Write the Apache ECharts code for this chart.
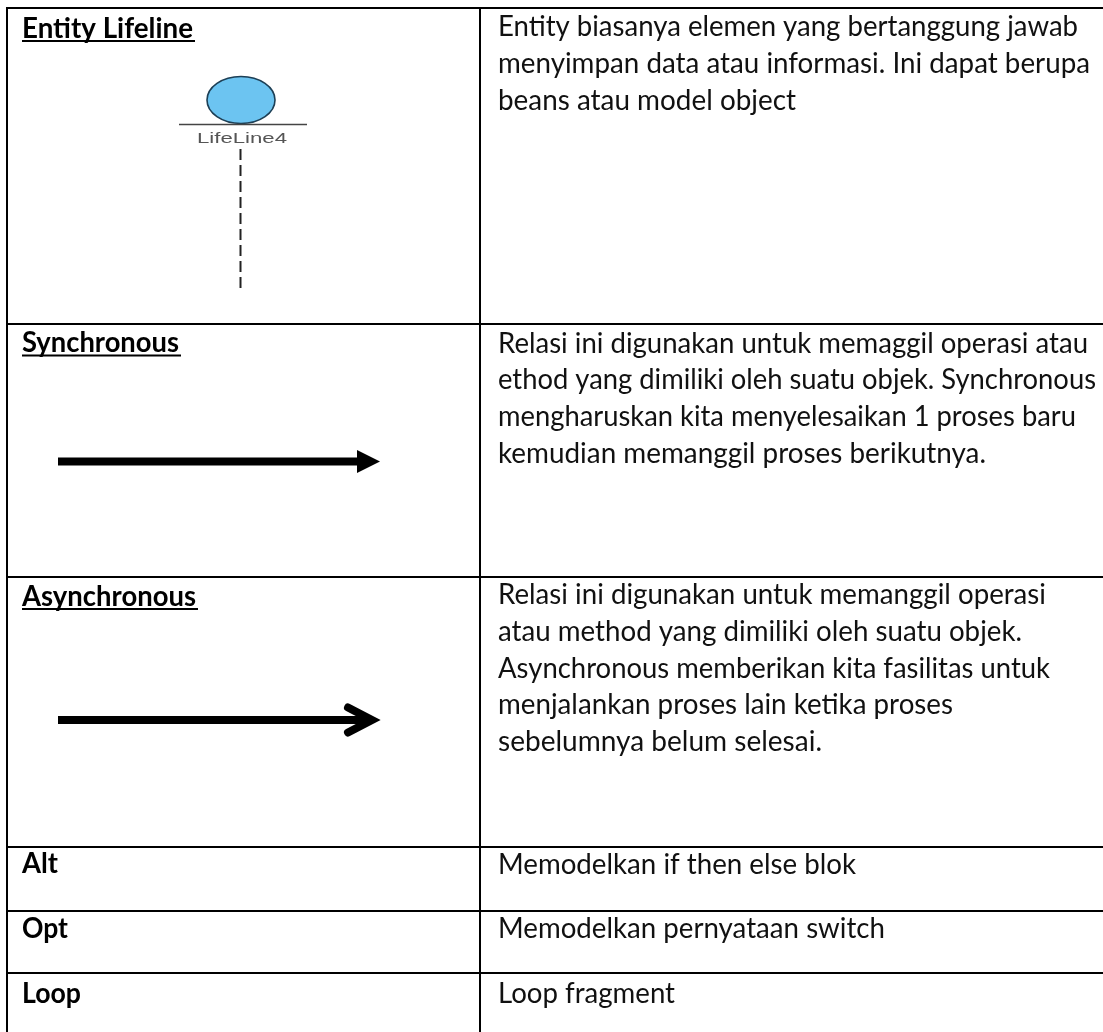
<!DOCTYPE html>
<html>
<head>
<meta charset="utf-8">
<title>Sequence diagram notation</title>
<style>
  html, body { margin: 0; padding: 0; background: #fff; }
  #main { width: 1103px; height: 1032px; }
</style>
<script src="https://cdn.jsdelivr.net/npm/echarts@6/dist/echarts.min.js"></script>
</head>
<body>
<div id="main"></div>
<script>
// table content
var rowNames = ['Entity Lifeline', 'Synchronous', 'Asynchronous', 'Alt', 'Opt', 'Loop'];
var rowUnderlined = [true, true, true, false, false, false];
var rowDescriptions = [
  ['Entity biasanya elemen yang bertanggung jawab', 'menyimpan data atau informasi. Ini dapat berupa', 'beans atau model object'],
  ['Relasi ini digunakan untuk memaggil operasi atau', 'ethod yang dimiliki oleh suatu objek. Synchronous', 'mengharuskan kita menyelesaikan 1 proses baru', 'kemudian memanggil proses berikutnya.'],
  ['Relasi ini digunakan untuk memanggil operasi', 'atau method yang dimiliki oleh suatu objek.', 'Asynchronous memberikan kita fasilitas untuk', 'menjalankan proses lain ketika proses', 'sebelumnya belum selesai.'],
  ['Memodelkan if then else blok'],
  ['Memodelkan pernyataan switch'],
  ['Loop fragment']
];
var lifelineLabel = 'LifeLine4';

// table geometry on the pixel axes
var rowTops = [8, 324, 577, 847, 911, 973];
var colLines = [7, 480];
var nameBaselines = [37, 351.5, 605, 872.5, 937, 1002];
var nameRights = [193, 179, 196, 58, 68, 81];
var descBaselines = [35.5, 352, 603.5, 873, 937, 1002];
var descRights = [
  [1078, 1090, 796],
  [1088, 1096, 1076, 986],
  [1046, 1022, 1050, 953, 822],
  [856],
  [885],
  [675]
];
var NAME_X = 22, DESC_X = 498, LINE_STEP = 36.7, FONT_SIZE = 28;

var ctx = document.createElement('canvas').getContext('2d');
function fitScale(text, font, targetWidth) {
  ctx.font = font;
  return targetWidth / ctx.measureText(text).width;
}

function fittedText(api, text, x, baseline, right, weight, size, family, fill) {
  var font = weight + ' ' + size + 'px ' + family;
  var p = api.coord([x, baseline - size * 0.3]);
  return {
    type: 'text',
    x: p[0],
    y: p[1],
    scaleX: fitScale(text, font, right - x),
    silent: true,
    style: { text: text, x: 0, y: 0, font: font, fill: fill, align: 'left', verticalAlign: 'middle' }
  };
}

function line(api, x1, y1, x2, y2, style) {
  var a = api.coord([x1, y1]), b = api.coord([x2, y2]);
  return { type: 'line', silent: true, shape: { x1: a[0], y1: a[1], x2: b[0], y2: b[1] }, style: style };
}

function renderRules(params, api) {
  var i = params.dataIndex;
  return line(api, 6, rowTops[i], 1103, rowTops[i], { stroke: '#000', lineWidth: 2 });
}

function renderColumns(params, api) {
  var i = params.dataIndex;
  return line(api, colLines[i], 7, colLines[i], 1032, { stroke: '#000', lineWidth: 2 });
}

function renderNames(params, api) {
  var i = params.dataIndex, kids = [];
  kids.push(fittedText(api, rowNames[i], NAME_X, nameBaselines[i], nameRights[i], 'bold', FONT_SIZE, 'Lato', '#000'));
  if (rowUnderlined[i]) {
    kids.push(line(api, NAME_X, nameBaselines[i] + 4, nameRights[i] + 2, nameBaselines[i] + 4, { stroke: '#000', lineWidth: 2 }));
  }
  return { type: 'group', children: kids };
}

function renderDescriptions(params, api) {
  var i = params.dataIndex;
  return {
    type: 'group',
    children: rowDescriptions[i].map(function (t, k) {
      return fittedText(api, t, DESC_X, descBaselines[i] + k * LINE_STEP, descRights[i][k], 'normal', FONT_SIZE, 'Lato', '#111');
    })
  };
}

function renderLifeline(params, api) {
  var c = api.coord([241, 100]);
  return {
    type: 'group',
    children: [
      { type: 'ellipse', silent: true, shape: { cx: c[0], cy: c[1], rx: 34, ry: 23.5 }, style: { fill: '#6cc4f1', stroke: '#1d3f55', lineWidth: 1.6 } },
      line(api, 179, 124.5, 307, 124.5, { stroke: '#444', lineWidth: 1.4 }),
      fittedText(api, lifelineLabel, 197, 143, 287, 'normal', 15, '"Liberation Sans"', '#555'),
      line(api, 240.5, 149, 240.5, 293, { stroke: '#222', lineWidth: 2, lineDash: [11, 5] })
    ]
  };
}

function renderArrows(params, api) {
  var tip, start = api.coord([58, 0])[0];
  var head;
  if (params.dataIndex === 0) {
    tip = api.coord([380, 461.5]);
    head = {
      type: 'polygon', silent: true,
      shape: { points: [[tip[0], tip[1]], [tip[0] - 23, tip[1] - 11.5], [tip[0] - 23, tip[1] + 11.5]] },
      style: { fill: '#000' }
    };
    return {
      type: 'group',
      children: [
        { type: 'rect', silent: true, shape: { x: start, y: tip[1] - 4, width: tip[0] - 20 - start, height: 8 }, style: { fill: '#000' } },
        head
      ]
    };
  }
  tip = api.coord([372, 720]);
  head = {
    type: 'polyline', silent: true,
    shape: { points: [[tip[0] - 24, tip[1] - 12.5], [tip[0], tip[1]], [tip[0] - 24, tip[1] + 12.5]] },
    style: { fill: null, stroke: '#000', lineWidth: 8, lineCap: 'round', lineJoin: 'miter' }
  };
  return {
    type: 'group',
    children: [
      { type: 'rect', silent: true, shape: { x: start, y: tip[1] - 4, width: tip[0] - start, height: 8 }, style: { fill: '#000' } },
      head
    ]
  };
}

function indexData(list) {
  return list.map(function (_, i) { return [i]; });
}

var chart = echarts.init(document.getElementById('main'), null, { renderer: 'canvas', width: 1103, height: 1032 });
chart.setOption({
  backgroundColor: '#ffffff',
  animation: false,
  tooltip: { show: false },
  grid: { left: 0, right: 0, top: 0, bottom: 0 },
  xAxis: { type: 'value', min: 0, max: 1103, show: false },
  yAxis: { type: 'value', min: 0, max: 1032, inverse: true, show: false },
  series: [
    { type: 'custom', name: 'rules', clip: false, renderItem: renderRules, data: indexData(rowTops) },
    { type: 'custom', name: 'columns', clip: false, renderItem: renderColumns, data: indexData(colLines) },
    { type: 'custom', name: 'names', clip: false, renderItem: renderNames, data: indexData(rowNames) },
    { type: 'custom', name: 'descriptions', clip: false, renderItem: renderDescriptions, data: indexData(rowDescriptions) },
    { type: 'custom', name: 'lifeline', clip: false, renderItem: renderLifeline, data: [[0]] },
    { type: 'custom', name: 'arrows', clip: false, renderItem: renderArrows, data: [[0], [1]] }
  ]
});
</script>
</body>
</html>
